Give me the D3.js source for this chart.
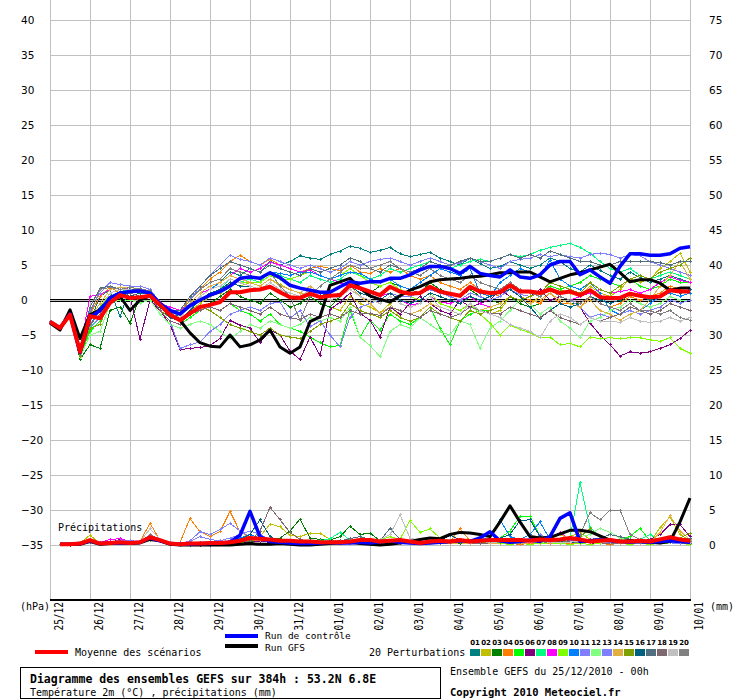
<!DOCTYPE html>
<html>
<head>
<meta charset="utf-8">
<script src="https://cdn.jsdelivr.net/npm/d3@7"></script>
<style>
body{margin:0;background:#fff;}
svg{display:block;}
</style>
</head>
<body>
<svg id="chart" width="740" height="700"></svg>
<script>
// axis labels
const dates = ["25/12","26/12","27/12","28/12","29/12","30/12","31/12","01/01","02/01","03/01","04/01","05/01","06/01","07/01","08/01","09/01","10/01"];
const dayHours = [0,24,48,72,96,120,144,168,192,216,240,264,288,312,336,360,384];
const tempTicks = [-35,-30,-25,-20,-15,-10,-5,0,5,10,15,20,25,30,35,40];
const precTicks = [0,5,10,15,20,25,30,35,40,45,50,55,60,65,70,75];

// temperature 2m, every 6h from 25/12 00h (65 values)
const meanT = [-3.1,-4.0,-2.1,-7.4, -2.3,-2.6,-0.4,0.7, 0.3,0.4,0.6,-0.7, -2.1,-2.9,-1.9,-1.0, -0.7,-0.3,1.1,1.1, 1.4,1.5,1.9,1.1, 0.4,0.3,0.9,0.4, 0.6,0.7,2.1,1.7, 1.2,0.7,1.9,1.2, 0.9,1.0,1.9,1.2, 0.9,0.6,1.9,1.2, 1.0,1.1,2.1,1.2, 1.2,1.0,1.5,1.0, 1.2,0.7,1.4,0.4, 0.3,0.3,0.9,0.6, 0.4,0.5,1.4,1.2, 1.2];
const gfsT = [-3.3,-4.3,-1.4,-5.5, -2.1,-1.4,-0.3,0.5, -1.5,0.0,0.6,-0.7, -2.0,-2.9,-4.7,-6.1, -6.6,-6.7,-5.0,-6.7, -6.4,-5.7,-4.3,-6.7, -7.6,-6.7,-3.1,-2.4, 2.1,2.6,3.1,1.7, 0.6,0.1,-0.3,0.6, 1.4,1.9,2.6,2.9, 3.0,3.1,3.3,3.4, 3.6,3.9,3.9,4.0, 4.0,3.3,2.6,3.1, 3.6,3.9,4.3,4.7, 5.1,3.9,2.6,2.9, 2.9,2.4,1.4,1.7, 1.7];
const ctrlT = [-3.1,-4.0,-2.0,-7.5, -2.5,-1.5,0.3,1.0, 1.2,1.3,1.0,-0.5, -1.5,-2.0,-0.8,0.0, 0.7,1.2,2.0,3.1, 3.3,3.1,3.9,3.2, 2.1,1.7,1.4,1.1, 1.1,1.9,2.6,2.4, 2.6,2.6,3.1,3.1, 3.6,4.3,4.8,4.8, 4.5,3.8,4.8,3.8, 3.5,3.3,4.3,3.3, 3.1,3.6,5.0,5.5, 5.5,3.6,4.3,3.3, 2.4,4.8,6.6,6.6, 6.4,6.4,6.6,7.4, 7.6];

const t01 = [-3.1,-4.0,-1.8,-7.0, -3.0,0.5,1.5,-2.4, 1.8,2.0,1.5,-0.5, -1.5,-2.5,-1.0,0.5, 1.5,2.5,4.0,3.5, 4.5,4.0,5.5,5.0, 5.5,6.3,6.0,5.8, 6.5,7.0,7.7,7.4, 6.8,7.1,7.5,6.6, 6.2,6.5,6.8,6.0, 5.5,5.0,6.0,5.2, 4.5,4.8,5.5,5.0, 4.5,5.0,6.0,5.5, 4.5,4.0,5.0,4.2, 3.5,3.0,4.0,3.2, 2.5,3.0,3.5,3.0, 2.5];
const t02 = [-3.1,-4.1,-1.9,-7.3, -2.8,-1.5,0.5,1.0, 1.3,1.5,1.2,-0.8, -2.3,-2.8,-1.5,-0.5, 0.5,1.0,2.5,2.0, 2.5,2.0,3.0,2.2, 1.5,1.0,0.5,-0.5, -1.0,-1.5,0.5,-0.5, -1.0,-1.8,-0.5,-2.5, -3.0,-2.5,-1.5,-2.0, -2.5,-2.0,-0.5,-1.5, -2.0,-1.5,0.5,0.0, -0.5,0.5,2.0,1.5, 1.0,0.5,2.0,1.0, 0.5,1.5,3.0,2.5, 3.0,4.5,5.5,6.7, 4.0];
const t03 = [-3.1,-4.2,-2.0,-8.5, -6.4,-6.9,-1.5,-1.0, -3.3,0.5,0.8,-1.5, -3.0,-3.5,-2.0,-1.0, -0.5,0.5,1.5,0.5, 0.0,-0.5,1.0,0.0, -1.0,-0.5,0.5,-0.5, -1.0,0.5,2.0,1.5, 1.0,2.0,2.5,2.0, 1.5,1.0,2.5,1.5, 1.0,0.5,1.5,0.5, 0.0,-0.5,0.5,-0.5, -1.0,-0.5,1.0,0.0, -0.5,-0.5,0.5,-0.5, -1.0,-0.5,1.0,0.5, 0.5,1.0,2.0,1.5, 1.0];
const t04 = [-3.1,-4.0,-1.7,-7.2, -2.0,0.5,1.8,1.0, 1.5,1.2,1.0,-0.5, -1.5,-2.0,0.5,1.5, 3.0,4.0,5.5,6.4, 5.5,5.0,5.8,5.0, 4.5,4.0,4.5,4.8, 4.5,4.2,5.0,4.0, 3.8,4.5,4.0,4.5, 3.5,3.0,3.5,2.5, 2.0,1.5,2.5,1.5, 1.0,0.5,1.5,0.5, 0.0,-0.5,1.0,-0.5, -0.5,-1.0,0.5,-0.5, -1.0,-0.5,0.5,0.0, 0.5,1.0,2.0,1.5, 1.0];
const t05 = [-3.1,-4.0,-2.0,-8.0, -4.5,-3.0,0.0,0.5, 0.5,0.0,0.5,-1.5, -3.0,-3.5,-2.5,-1.5, -1.0,-1.5,-0.5,-1.5, -2.0,-3.0,-2.0,-3.5, -4.0,-4.5,-5.3,-6.1, -6.7,-6.5,-1.4,-5.3, -2.9,-4.3,-2.0,-3.0, -3.5,-2.5,-1.0,-4.0, -6.4,-3.0,-2.0,-1.5, -1.5,-1.0,0.5,0.0, 0.5,1.0,2.0,1.5, 2.0,2.5,3.5,3.0, 2.5,2.0,3.0,2.0, 1.5,2.0,3.0,2.5, 2.5];
const t06 = [-3.1,-4.1,-1.8,-7.8, -3.5,-2.0,0.5,1.0, 0.5,-5.6,0.0,-1.5, -3.5,-7.1,-6.9,-6.8, -6.5,-5.5,-2.9,-3.6, -4.0,-6.1,-4.3,-5.0, -7.3,-8.5,-5.3,-7.9, -1.4,-0.3,1.0,-1.9, -2.9,-5.3,-1.0,-2.0, -0.5,0.5,-0.5,-1.5, -2.0,0.0,-1.0,-0.5, 0.0,1.5,0.5,0.0, 0.5,1.5,0.0,0.5, 0.0,-1.0,-3.3,-5.0, -6.4,-8.0,-7.4,-7.6, -7.4,-6.9,-6.4,-5.5, -4.3];
const t07 = [-3.1,-4.0,-1.9,-7.6, -3.8,-2.5,0.5,1.2, 1.5,1.0,1.3,-0.8, -2.5,-3.0,-1.5,0.0, 1.0,1.5,3.0,2.5, 3.0,2.5,4.0,3.5, 3.0,2.5,3.5,3.0, 2.5,3.0,4.0,3.5, 3.0,3.5,4.5,4.0, 4.5,5.0,5.5,5.0, 4.5,5.0,5.5,5.8, 5.5,6.0,6.5,6.2, 6.5,7.1,7.5,7.8, 8.1,7.5,6.7,5.5, 4.5,4.0,4.5,3.5, 3.0,3.5,4.0,3.5, 3.0];
const t08 = [-3.1,-4.0,-1.6,-7.0, 0.5,0.8,1.5,1.8, 1.5,1.3,1.0,-0.5, -1.0,-1.5,-0.5,1.0, 1.5,2.5,3.5,4.5, 4.0,4.5,5.4,5.0, 4.5,4.0,4.3,3.5, 3.0,2.5,1.9,1.5, 1.0,0.5,1.0,0.0, -0.7,-0.5,0.5,-0.3, -0.5,0.0,0.5,-0.5, -1.0,-0.5,0.5,0.0, 0.5,1.0,1.5,0.5, 0.0,0.5,1.0,1.5, 1.0,1.2,1.5,1.0, 1.5,2.5,3.3,2.8, 2.5];
const t09 = [-3.1,-4.0,-1.8,-7.4, -2.5,-1.0,1.0,1.5, 1.5,1.0,1.0,-0.8, -2.0,-2.5,-1.0,0.5, 1.5,2.0,3.0,2.5, 2.5,2.5,3.5,3.0, 3.0,3.5,4.0,3.5, 3.0,3.5,4.5,3.5, 2.5,2.0,2.5,1.5, 0.5,0.0,1.0,-0.5, -1.0,-1.5,-0.5,-2.0, -3.3,-5.0,-3.6,-4.2, -4.7,-5.4,-5.3,-6.4, -6.2,-6.7,-5.3,-5.5, -5.4,-5.5,-5.4,-5.4, -5.7,-5.9,-5.4,-6.9, -7.6];
const t10 = [-3.1,-4.0,-1.9,-7.7, -3.5,-1.5,0.5,1.2, 1.2,1.0,0.8,-1.0, -2.5,-3.0,-1.5,0.5, 1.5,2.5,3.5,3.0, 3.5,3.0,4.0,3.8, 3.5,4.0,4.0,3.5, 3.0,3.5,4.0,3.8, 3.0,2.5,3.0,2.0, 1.5,2.5,3.5,4.5, 4.0,3.5,4.5,1.0, 0.5,2.5,3.5,4.5, 4.0,3.5,5.7,3.0, 2.0,1.5,2.5,1.0, -1.4,-2.1,-1.0,-1.5, -0.5,0.5,1.0,0.5, 1.0];
const t11 = [-3.1,-3.9,-1.7,-7.0, -1.5,1.0,2.5,2.2, 2.0,2.0,1.5,-0.3, -1.5,-2.0,0.0,2.0, 3.5,5.0,6.4,5.8, 5.5,5.0,6.0,5.5, 5.0,4.5,5.0,4.5, 4.0,4.5,5.5,5.0, 5.5,5.8,6.0,5.5, 5.0,5.5,6.0,5.5, 5.0,5.3,6.0,5.5, 5.0,4.5,5.5,5.8, 6.0,6.5,6.2,6.5, 6.2,6.0,6.5,6.7, 6.5,6.0,6.5,6.3, 5.5,5.0,4.5,4.0, 3.5];
const t12 = [-3.1,-4.2,-2.1,-8.2, -5.0,-4.5,-0.5,0.0, 0.0,-0.5,0.0,-2.0, -3.5,-4.0,-3.5,-3.0, -3.5,-4.5,-5.5,-4.5, -3.5,-4.0,-3.0,-3.5, -4.0,-3.5,-2.5,-3.0, -2.5,-3.0,-1.0,-5.3, -6.5,-8.1,-4.5,-3.5, -4.0,-2.5,-3.5,-4.5, -5.0,-3.0,-3.5,-6.9, -4.0,-3.0,-1.5,0.0, -0.5,-2.0,-1.0,-3.0, -4.0,-5.4,-3.0,-2.5, -1.5,-1.0,0.0,-0.5, -1.0,-0.5,0.5,0.0, 0.0];
const t13 = [-3.1,-4.1,-1.9,-7.9, -4.0,-2.5,0.0,0.5, 1.0,0.5,0.5,-1.5, -3.0,-6.9,-6.4,-6.0, -4.5,-3.5,-2.0,-1.5, -1.0,-1.5,-0.5,-0.3, -2.6,-1.5,-3.8,-3.0, -5.0,-6.7,-2.5,-1.0, -0.5,0.0,1.0,0.5, 0.5,1.0,1.5,1.0, 0.5,0.0,1.0,0.5, 0.0,0.5,1.5,0.8, 0.5,1.0,1.5,0.5, 0.0,-1.0,-2.5,-2.0, -2.5,-2.0,-1.5,-2.0, -1.5,-1.0,0.0,-0.5, 0.0];
const t14 = [-3.1,-4.0,-1.8,-7.3, -2.5,-0.5,1.5,1.8, 1.8,1.5,1.2,-0.3, -1.8,-2.2,-0.5,1.0, 2.0,2.5,3.5,3.0, 2.5,2.0,3.0,2.0, 1.5,1.0,2.0,1.0, 0.5,1.0,2.0,0.5, -0.5,-1.9,-1.0,-1.5, -2.0,-1.5,-0.5,-1.0, -1.5,-2.0,-1.0,-1.5, -1.0,-0.5,0.5,0.0, -0.5,0.0,1.0,0.0, -0.5,-1.0,0.0,-1.5, -2.0,-2.9,-2.0,-1.5, 0.0,2.0,3.5,5.5, 3.0];
const t15 = [-3.1,-4.0,-2.0,-8.0, -4.0,-3.5,0.0,0.5, 0.5,0.0,0.5,-1.5, -2.5,-3.0,-2.0,-1.0, -1.5,-2.5,-3.5,-4.0, -4.5,-5.0,-4.0,-5.0, -5.3,-5.5,-4.5,-3.5, -3.0,-2.5,-0.5,-1.5, -2.0,-2.5,-1.5,-2.5, -3.0,-2.5,-1.0,-2.0, -2.5,-3.0,-1.5,-2.0, -1.5,-1.0,0.5,0.0, 0.5,1.0,2.5,2.0, 1.5,1.0,2.5,1.5, 1.0,2.0,3.0,3.5, 3.0,4.0,4.5,5.0, 6.0];
const t16 = [-3.1,-4.0,-1.9,-7.5, -3.0,-1.0,0.5,1.0, 0.5,1.0,0.8,-1.0, -2.5,-3.0,-1.5,0.0, 1.0,1.5,2.5,2.0, 2.0,1.5,2.5,1.5, 1.0,0.5,1.5,1.0, 0.5,1.0,2.0,1.0, 0.5,0.0,1.0,0.0, -0.5,0.0,1.0,0.5, 0.0,-0.5,0.5,0.0, 0.5,1.0,1.5,0.5, -1.0,-2.6,-1.5,-0.5, -1.0,-0.5,0.5,0.0, -0.5,0.0,1.0,0.5, 0.0,0.5,1.5,1.0, 1.5];
const t17 = [-3.1,-3.9,-1.6,-6.8, -1.0,1.7,2.0,1.5, 1.5,1.5,1.2,-0.5, -1.5,-1.5,0.5,2.0, 3.5,4.5,5.5,5.0, 4.5,4.0,5.0,4.5, 4.0,3.5,4.5,4.0, 4.5,5.0,6.0,5.5, 4.5,4.0,5.0,4.5, 4.0,4.5,5.5,5.0, 5.0,5.5,6.0,5.5, 5.5,6.0,6.5,6.0, 6.5,6.0,7.0,6.5, 6.0,5.5,5.5,5.0, 5.0,5.5,5.5,5.5, 5.5,5.3,5.0,5.5, 5.5];
const t18 = [-3.1,-4.1,-1.8,-7.6, -3.5,-2.0,0.5,1.0, 1.0,0.5,0.5,-1.5, -3.0,-3.5,-2.0,-1.5, -1.0,-1.5,-0.5,-1.0, -1.5,-2.0,-1.0,-2.0, -2.5,-2.8,-2.0,-2.5, -2.0,-2.5,-1.5,-2.0, -1.9,-2.2,-1.0,-1.5, -2.0,-2.5,-1.5,-2.0, -2.5,-2.0,-1.0,-1.5, -1.9,-2.0,-1.0,-1.5, -2.0,-2.5,-1.5,-2.5, -3.0,-3.5,-2.5,-3.0, -2.5,-2.0,-1.0,-1.5, -2.0,-1.5,-0.5,-1.0, -1.5];
const t19 = [-3.1,-4.0,-1.8,-7.4, -3.0,-1.5,1.0,1.5, 1.5,1.2,1.0,-0.5, -2.0,-2.5,-1.0,0.5, 1.5,2.0,3.0,2.5, 2.0,1.5,2.5,1.5, 1.0,0.5,1.5,0.5, 0.0,0.5,1.5,0.5, 0.0,-0.5,0.5,-0.5, -1.0,-0.5,0.5,-1.0, -1.5,-2.0,-0.5,-1.5, -2.0,-2.5,-3.5,-4.0, -4.5,-5.4,-3.0,-2.0, -2.5,-3.5,-2.5,-3.0, -3.0,-3.2,-2.5,-3.0, -3.2,-3.0,-2.5,-3.0, -2.5];
const t20 = [-3.1,-3.9,-1.7,-7.1, -2.0,1.5,1.8,1.5, 1.8,1.6,1.3,-0.3, -1.5,-2.0,0.0,1.5, 2.5,3.0,4.5,4.0, 3.5,3.0,4.0,2.0, 0.5,-2.9,0.5,2.0, 3.0,4.0,5.0,4.5, 4.5,5.0,5.5,4.5, 4.0,3.5,4.5,3.5, 3.0,2.5,3.5,2.5, 2.0,1.5,2.5,1.5, 1.0,0.5,1.5,0.5, 0.0,-0.5,0.5,-0.5, -1.0,-1.5,-0.5,-1.5, -1.5,-2.0,-1.5,-2.5, -2.9];

// precipitation (mm per 6h), from 25/12 06h (64 values)
const meanP = [0.1,0.1,0.2,0.7,0.2,0.3,0.4,0.3,0.4,1.1, 0.7,0.2,0.1,0.2,0.2,0.3,0.3,0.4,0.6,1.0, 0.9,0.8,0.6,0.6,0.5,0.5,0.4,0.4,0.4,0.5, 0.7,0.7,0.5,0.6,0.7,0.5,0.3,0.5,0.6,0.5, 0.7,0.5,0.6,0.7,0.7,0.7,0.7,0.6,0.8,0.7, 0.8,1.0,0.8,0.5,0.6,0.7,0.5,0.5,0.6,0.5, 0.8,1.1,0.8,0.6];
const gfsP = [0.1,0.1,0.1,0.5,0.1,0.2,0.3,0.2,0.3,0.8, 0.6,0.1,0.0,0.0,0.0,0.0,0.0,0.0,0.1,0.2, 0.1,0.1,0.2,0.1,0.0,0.0,0.1,0.2,0.3,0.4, 0.2,0.1,0.0,0.1,0.3,0.5,0.8,1.0,0.9,1.5, 1.8,1.7,1.5,1.2,3.3,5.6,3.3,1.2,1.0,1.1, 1.6,2.1,2.1,1.9,1.3,0.7,0.5,0.6,0.5,0.4, 0.3,0.5,3.3,6.7];
const ctrlP = [0.1,0.1,0.2,0.6,0.2,0.3,0.3,0.3,0.4,1.0, 0.6,0.2,0.1,0.1,0.2,0.2,0.3,0.4,1.4,4.8, 1.2,0.5,0.4,0.3,0.2,0.2,0.3,0.4,0.3,0.3, 0.4,0.3,0.5,0.6,0.4,0.3,0.2,0.3,0.4,0.5, 0.6,0.5,1.0,1.9,0.6,0.4,0.5,0.7,0.5,1.2, 3.8,4.6,0.5,0.6,0.7,0.6,0.5,0.4,0.5,0.4, 0.5,0.6,0.5,0.4];

const r01 = [0.1,0.0,0.1,0.6,0.1,0.2,0.3,0.2,0.3,1.2, 0.8,0.1,0.0,0.1,0.1,0.2,0.2,0.3,0.4,0.8, 1.5,0.6,0.4,0.3,0.2,0.1,0.2,0.3,0.2,0.4, 0.3,0.2,0.4,0.5,0.3,0.2,0.1,0.2,0.3,0.6, 0.4,0.3,0.5,0.4,0.3,0.4,0.3,0.5,0.4,0.3, 0.5,0.6,0.4,0.3,0.5,0.4,0.6,0.8,0.5,0.4, 0.6,1.2,0.8,0.5];
const r02 = [0.1,0.2,0.3,1.4,0.2,0.1,0.2,0.4,0.3,0.9, 0.5,0.1,0.0,0.0,0.1,0.1,0.2,0.2,0.3,0.5, 1.2,3.0,2.6,1.4,1.2,1.7,1.7,0.8,0.5,0.4, 0.3,0.4,0.3,0.6,0.5,0.4,0.3,0.2,0.4,0.5, 0.3,0.2,0.4,0.3,0.5,0.6,0.4,0.3,0.5,0.4, 0.6,1.2,1.8,0.8,0.5,0.4,0.6,0.5,0.4,0.3, 2.5,4.0,1.5,0.6];
const r03 = [0.1,0.1,0.1,0.4,0.1,0.2,0.3,0.2,0.3,0.8, 0.6,0.1,0.0,0.0,0.1,0.1,0.2,0.3,0.4,0.5, 0.6,0.8,1.0,2.0,3.7,1.0,0.8,0.7,1.2,2.7, 1.5,1.7,0.6,0.5,0.4,0.3,0.2,0.3,0.4,0.3, 0.2,0.3,0.4,0.5,0.4,0.3,0.2,0.4,0.3,0.5, 0.4,0.3,0.5,0.6,0.4,0.3,0.5,0.4,0.6,0.5, 0.4,0.3,0.5,0.4];
const r04 = [0.1,0.1,0.2,0.5,0.2,0.3,0.4,0.3,0.5,3.1, 0.7,0.2,0.4,3.8,1.9,1.2,1.9,4.8,1.9,1.0, 0.6,0.5,0.4,0.3,0.3,0.2,0.2,0.3,0.4,0.3, 0.2,0.1,0.1,0.2,0.3,0.2,0.1,0.2,0.3,0.5, 2.3,0.6,0.3,0.2,0.3,0.2,0.1,0.2,0.3,0.2, 0.3,0.2,0.3,0.4,0.2,0.1,0.2,0.3,0.2,0.1, 0.2,0.3,0.2,0.3];
const r05 = [0.1,0.1,0.1,0.4,0.1,0.2,0.2,0.3,0.3,0.8, 0.5,0.1,0.0,0.1,0.1,0.1,0.2,0.2,0.3,0.6, 0.7,0.5,0.4,0.3,0.2,0.3,0.4,0.3,0.5,0.4, 0.3,0.2,0.4,0.3,0.5,0.4,0.3,0.2,0.3,0.4, 0.5,0.4,0.8,0.6,1.0,2.0,4.1,4.1,1.2,0.6, 0.4,0.3,0.5,0.6,0.4,0.5,0.8,1.2,2.4,0.6, 0.5,0.6,0.4,0.5];
const r06 = [0.1,0.1,0.2,0.6,0.2,0.3,0.8,0.4,0.3,0.9, 0.5,0.2,0.1,0.1,0.0,0.0,0.1,0.1,0.2,0.4, 0.5,0.4,0.3,0.2,0.1,0.1,0.2,0.3,0.2,0.3, 0.4,0.3,0.2,0.3,0.4,0.3,0.2,0.3,0.4,0.3, 0.4,0.5,0.3,0.4,0.6,0.5,0.4,0.3,0.5,0.4, 0.3,0.4,0.5,0.3,0.2,0.3,0.4,0.3,0.5,0.8, 1.5,2.9,2.9,1.2];
const r07 = [0.1,0.1,0.1,0.5,0.2,0.2,0.3,0.2,0.4,1.0, 0.6,0.2,0.1,0.1,0.1,0.2,0.2,0.3,0.5,0.7, 0.8,0.6,0.5,0.4,0.3,0.4,0.6,0.9,1.8,0.7, 0.5,0.4,0.6,0.5,0.4,0.3,0.5,0.4,0.3,0.5, 0.4,0.3,0.5,0.6,0.5,0.7,0.8,0.6,0.9,0.6, 0.5,1.0,8.9,2.5,1.2,0.8,0.6,0.5,0.8,1.5, 0.6,0.5,0.8,0.5];
const r08 = [0.1,0.1,0.2,0.6,0.3,0.8,0.9,0.5,0.4,1.0, 0.6,0.2,0.1,0.1,0.2,0.3,0.4,0.3,0.5,0.8, 1.2,0.8,0.5,0.4,0.3,0.3,0.4,0.5,0.4,0.3, 0.5,0.6,0.4,0.3,0.5,0.4,0.3,0.4,0.5,0.4, 0.3,0.4,0.5,0.6,0.4,0.5,0.6,0.8,1.2,0.9, 1.8,0.7,0.5,0.4,0.6,0.5,0.4,0.3,0.4,0.5, 0.6,0.5,0.7,0.4];
const r09 = [0.1,0.2,0.2,0.8,0.2,0.3,0.3,0.4,0.3,1.1, 0.6,0.2,0.1,0.1,0.1,0.2,0.3,0.3,0.5,0.7, 0.8,0.6,0.5,0.4,0.3,0.4,0.3,0.5,0.4,0.6, 0.8,0.5,0.7,1.2,0.8,3.5,1.8,2.3,1.0,0.6, 0.4,0.3,0.2,0.3,0.2,0.1,0.2,0.1,0.2,0.3, 0.2,0.1,0.2,0.1,0.2,0.3,0.2,0.1,0.2,0.1, 0.2,0.3,0.2,0.1];
const r10 = [0.1,0.1,0.2,0.5,0.2,0.2,0.3,0.3,0.4,1.3, 0.7,0.2,0.1,0.2,0.2,0.3,0.4,0.6,1.0,1.5, 1.0,0.7,0.5,0.4,0.3,0.3,0.4,0.5,0.4,0.3, 0.4,0.3,0.5,0.6,0.4,0.5,0.3,0.4,0.5,0.4, 0.5,0.6,0.8,1.0,3.6,1.2,0.8,1.5,3.3,0.8, 0.5,0.4,0.6,0.5,0.4,0.3,0.5,0.4,0.3,0.4, 0.3,0.4,0.3,0.2];
const r11 = [0.1,0.1,0.2,0.6,0.2,0.3,0.5,0.7,0.4,1.0, 0.6,0.2,0.2,0.6,1.9,1.5,2.2,3.1,2.0,1.2, 0.8,0.6,0.4,0.3,0.2,0.3,0.2,0.3,0.4,0.3, 0.2,0.3,0.4,0.3,0.5,0.6,0.4,0.3,0.4,0.5, 0.3,0.2,0.4,0.5,0.3,0.4,0.5,0.4,0.6,0.5, 0.4,0.5,0.3,0.4,0.6,0.5,0.4,0.3,0.2,0.3, 0.4,0.3,0.2,0.3];
const r12 = [0.1,0.2,0.2,0.7,0.2,0.3,0.3,0.4,0.3,0.9, 0.5,0.1,0.1,0.1,0.2,0.2,0.3,0.2,0.4,0.6, 0.7,0.5,0.4,0.5,0.6,0.4,0.3,0.5,0.6,0.4, 0.5,0.4,0.3,0.5,0.4,0.6,0.5,0.4,0.3,0.5, 0.6,0.4,0.5,0.3,0.4,0.5,0.6,0.4,0.3,0.5, 0.6,0.8,1.2,1.5,2.4,1.8,1.0,0.6,0.5,0.4, 0.5,0.6,0.4,0.3];
const r13 = [0.1,0.1,0.2,0.5,0.2,0.4,0.7,0.6,0.3,0.9, 0.5,0.2,0.3,0.5,1.2,0.8,0.6,1.0,1.5,2.0, 1.5,0.8,0.5,0.4,0.3,0.3,0.2,0.3,0.4,0.3, 0.3,0.4,0.3,0.2,0.4,0.5,0.4,0.3,0.5,0.4, 0.3,0.5,0.6,0.4,0.3,0.4,0.5,0.3,1.5,0.8, 0.5,0.4,0.6,0.5,0.3,0.4,0.5,0.4,0.3,0.4, 0.5,0.4,0.6,0.5];
const r14 = [0.1,0.1,0.2,0.6,0.2,0.2,0.3,0.3,0.4,0.8, 0.6,0.1,0.1,0.2,0.2,0.3,0.3,0.4,0.5,0.6, 0.7,0.5,0.4,0.3,0.3,0.2,0.3,0.4,0.3,0.2, 0.3,0.2,0.3,0.4,0.3,0.2,0.1,0.2,0.3,0.2, 0.3,0.2,0.3,0.2,0.3,0.4,0.2,0.3,0.4,0.8, 1.5,0.9,0.4,0.3,0.5,0.4,0.2,0.3,0.2,0.3, 1.8,4.2,2.0,0.8];
const r15 = [0.1,0.1,0.1,0.5,0.1,0.2,0.3,0.2,0.3,0.7, 0.5,0.1,0.0,0.1,0.1,0.2,0.2,0.3,0.4,0.6, 0.9,0.7,0.6,0.5,0.4,0.3,0.3,0.4,0.5,0.4, 0.3,0.4,0.5,0.4,0.3,0.6,0.5,0.4,0.3,0.4, 0.5,0.4,0.3,0.5,0.4,0.3,0.5,0.4,0.6,0.5, 0.6,0.8,1.2,2.3,1.0,0.6,0.5,0.7,0.6,0.5, 0.6,0.8,1.0,1.7];
const r16 = [0.1,0.1,0.2,0.5,0.2,0.3,0.3,0.4,0.5,1.2, 0.7,0.2,0.1,0.1,0.2,0.3,0.4,0.5,0.8,1.5, 3.6,1.2,0.6,0.4,0.3,0.4,0.3,0.4,0.5,0.3, 0.4,0.5,0.3,0.4,0.5,0.4,0.3,0.4,0.6,1.4, 0.7,0.5,0.4,0.6,1.0,1.5,3.5,3.6,1.2,0.6, 0.5,0.4,0.3,0.5,0.4,0.6,0.5,0.4,0.3,0.5, 0.4,0.3,0.5,0.4];
const r17 = [0.1,0.1,0.2,0.5,0.2,0.3,0.3,0.4,0.4,1.0, 0.6,0.2,0.1,0.2,0.3,0.3,0.4,0.5,0.6,0.8, 1.0,0.8,0.6,0.5,0.4,0.3,0.4,0.5,0.6,0.9, 1.2,0.8,0.6,2.4,0.8,0.5,0.4,0.5,0.4,0.5, 0.4,0.5,0.6,0.4,0.5,0.6,0.5,0.4,0.6,0.5, 0.6,0.5,0.7,0.8,1.0,1.5,1.2,0.8,0.6,0.7, 0.5,0.6,0.8,1.0];
const r18 = [0.1,0.1,0.1,0.4,0.1,0.2,0.3,0.2,0.3,0.8, 0.5,0.1,0.0,0.1,0.1,0.2,0.2,0.3,0.4,0.6, 2.0,5.4,3.6,1.8,0.8,0.5,0.4,0.3,0.4,0.3, 0.2,0.3,0.4,0.3,0.2,0.3,0.4,0.3,0.2,0.3, 0.4,0.3,0.2,0.3,0.4,0.5,0.3,0.4,0.5,0.3, 0.4,0.5,0.3,0.4,0.3,0.2,0.3,0.4,0.3,0.2, 0.3,0.4,0.3,0.2];
const r19 = [0.1,0.1,0.2,0.6,0.2,0.3,0.4,0.3,0.5,2.3, 0.8,0.2,0.1,0.2,0.2,0.3,0.4,0.3,0.6,0.9, 0.7,0.5,0.4,0.3,0.4,0.5,0.4,0.3,0.5,0.6, 0.5,0.6,0.8,1.5,4.3,1.0,0.6,0.5,0.4,0.5, 0.4,0.3,0.5,0.4,0.3,0.5,0.4,0.3,0.5,0.4, 0.3,0.4,0.6,0.5,0.4,0.3,0.4,0.5,0.4,0.3, 0.4,0.3,0.4,0.3];
const r20 = [0.1,0.1,0.2,0.5,0.2,0.2,0.3,0.3,0.4,1.5, 0.7,0.2,0.1,0.2,0.2,0.3,0.3,0.4,0.6,1.0, 0.9,0.6,0.5,0.4,0.3,0.3,0.4,0.5,0.4,0.5, 0.6,0.5,0.4,0.5,0.6,0.5,0.4,0.3,0.4,0.5, 0.4,0.5,0.6,0.5,0.4,0.3,0.4,0.5,0.6,0.5, 0.6,0.8,1.5,4.6,3.6,5.0,5.0,1.5,0.8,0.6, 0.5,0.4,0.6,0.5];

const pertColors = ["#008080","#c0c000","#008000","#ff8000","#00ff00","#800080","#00ff80","#ff00ff","#80ff00","#0080ff","#8080ff","#80ff80","#8080ff","#e0b040","#80a000","#006080","#507080","#806870","#c0c0c0","#808080"];
const pertLabels = ["01","02","03","04","05","06","07","08","09","10","11","12","13","14","15","16","17","18","19","20"];
const pertTemp = [t01,t02,t03,t04,t05,t06,t07,t08,t09,t10,t11,t12,t13,t14,t15,t16,t17,t18,t19,t20];
const pertPrec = [r01,r02,r03,r04,r05,r06,r07,r08,r09,r10,r11,r12,r13,r14,r15,r16,r17,r18,r19,r20];

const MONO = '"DejaVu Sans Mono", monospace';
const SANS = '"DejaVu Sans", sans-serif';

const svg = d3.select("#chart");
const x = d3.scaleLinear().domain([0,384]).range([50,690]);
const yT = d3.scaleLinear().domain([-35,40]).range([545,20]);
const yP = d3.scaleLinear().domain([0,75]).range([545,20]);

svg.append("rect").attr("width",740).attr("height",700).attr("fill","#fff");

// grid
const grid = svg.append("g").attr("stroke","#c0c0c0").attr("stroke-width",1).attr("shape-rendering","crispEdges");
grid.selectAll("line.v").data(dayHours).join("line").attr("class","v")
	.attr("x1",d=>Math.round(x(d))+0.5).attr("x2",d=>Math.round(x(d))+0.5)
	.attr("y1",0).attr("y2",600);
grid.selectAll("line.h").data(tempTicks).join("line").attr("class","h")
	.attr("x1",50).attr("x2",691)
	.attr("y1",d=>Math.round(yT(d))+0.5).attr("y2",d=>Math.round(yT(d))+0.5);

// zero line (double) and bottom axis
const zero = svg.append("g").attr("stroke","#000").attr("shape-rendering","crispEdges");
zero.append("line").attr("x1",50).attr("x2",691).attr("y1",yT(0)-0.5).attr("y2",yT(0)-0.5);
zero.append("line").attr("x1",50).attr("x2",691).attr("y1",yT(0)+1.5).attr("y2",yT(0)+1.5);
svg.append("line").attr("x1",50).attr("x2",691).attr("y1",600).attr("y2",600)
	.attr("stroke","#000").attr("stroke-width",2).attr("shape-rendering","crispEdges");

// axes labels
const axL = svg.append("g").call(d3.axisLeft(yT).tickValues(tempTicks).tickSize(0));
axL.select(".domain").remove();
axL.selectAll("text").attr("x",21).attr("dy","0.36em").attr("text-anchor","start")
	.style("font-family",SANS).style("font-size","10.5px").attr("fill","#000");

const axR = svg.append("g").call(d3.axisRight(yP).tickValues(precTicks).tickSize(0));
axR.select(".domain").remove();
axR.selectAll("text").attr("x",709).attr("dy","0.36em").attr("text-anchor","start")
	.style("font-family",SANS).style("font-size","10.5px").attr("fill","#000");

const axB = svg.append("g").call(d3.axisBottom(x).tickValues(dayHours).tickFormat((d,i)=>dates[i]).tickSize(0));
axB.select(".domain").remove();
axB.selectAll("text").attr("x",0).attr("y",0).attr("dy",0)
	.attr("transform","translate(12,602) rotate(-90) scale(0.76,1)").attr("text-anchor","end")
	.style("font-family",MONO).style("font-size","12.5px").attr("fill","#000");

function txt(s,px,py,size,bold,anchor){
	return svg.append("text").attr("x",px).attr("y",py).text(s)
		.style("font-family",MONO).style("font-size",size+"px")
		.style("font-weight",bold?"bold":"normal")
		.attr("text-anchor",anchor||"start").attr("fill","#000");
}
txt("(hPa)",20,610,10);
txt("(mm)",710,610,10);
txt("Précipitations",58,531,10);

// series
const lineT = d3.line().x((d,i)=>x(i*6)).y(d=>yT(d));
const lineP = d3.line().x((d,i)=>x((i+1)*6)).y(d=>yP(d));
const plus = "M-1.5,0H1.5M0,-1.5V1.5";

const pertG = svg.append("g").attr("shape-rendering","crispEdges");
pertTemp.forEach(function(vals,k){
	let g = pertG.append("g").attr("stroke",pertColors[k]).attr("fill","none");
	g.append("path").attr("d",lineT(vals)).attr("stroke-width",1);
	g.selectAll("path.mk").data(vals).join("path").attr("class","mk").attr("d",plus)
		.attr("transform",(d,i)=>"translate("+x(i*6)+","+yT(d)+")");
});
pertPrec.forEach(function(vals,k){
	let g = pertG.append("g").attr("stroke",pertColors[k]).attr("fill","none");
	g.append("path").attr("d",lineP(vals)).attr("stroke-width",1);
	g.selectAll("path.mk").data(vals).join("path").attr("class","mk").attr("d",plus)
		.attr("transform",(d,i)=>"translate("+x((i+1)*6)+","+yP(d)+")");
});

const main = [
	{t:gfsT,p:gfsP,color:"#000000",w:3},
	{t:ctrlT,p:ctrlP,color:"#0000ff",w:3.5},
	{t:meanT,p:meanP,color:"#ff0000",w:4}
];
main.forEach(function(s){
	svg.append("path").attr("d",lineT(s.t)).attr("fill","none").attr("stroke",s.color)
		.attr("stroke-width",s.w).attr("stroke-linejoin","round");
	svg.append("path").attr("d",lineP(s.p)).attr("fill","none").attr("stroke",s.color)
		.attr("stroke-width",s.w).attr("stroke-linejoin","round");
});

// legend
svg.append("line").attr("x1",35).attr("x2",68).attr("y1",652).attr("y2",652).attr("stroke","#ff0000").attr("stroke-width",4);
txt("Moyenne des scénarios",75,656,10);
svg.append("line").attr("x1",225).attr("x2",258).attr("y1",636).attr("y2",636).attr("stroke","#0000ff").attr("stroke-width",4);
txt("Run de contrôle",265,639,9.5);
svg.append("line").attr("x1",225).attr("x2",258).attr("y1",646).attr("y2",646).attr("stroke","#000000").attr("stroke-width",4);
txt("Run GFS",265,650.5,9.5);
txt("20 Perturbations",369,656,10);

const sq = svg.append("g");
sq.selectAll("rect").data(pertColors).join("rect")
	.attr("x",(d,i)=>470+i*11).attr("y",649).attr("width",10).attr("height",7).attr("fill",d=>d);
sq.selectAll("text").data(pertLabels).join("text")
	.attr("x",(d,i)=>475+i*11).attr("y",645).attr("text-anchor","middle").text(d=>d)
	.style("font-family",SANS).style("font-size","7px").style("font-weight","bold").attr("fill","#000");

// title box
svg.append("rect").attr("x",20.5).attr("y",667.5).attr("width",420).attr("height",31)
	.attr("fill","none").attr("stroke","#000").attr("stroke-width",1);
txt("Diagramme des ensembles GEFS sur 384h : 53.2N 6.8E",30,683,11.5,true);
txt("Température 2m (°C) , précipitations (mm)",30,696,10);
txt("Ensemble GEFS du 25/12/2010 - 00h",450,675,10);
txt("Copyright 2010 Meteociel.fr",450,696,10.5,true);
</script>
</body>
</html>
